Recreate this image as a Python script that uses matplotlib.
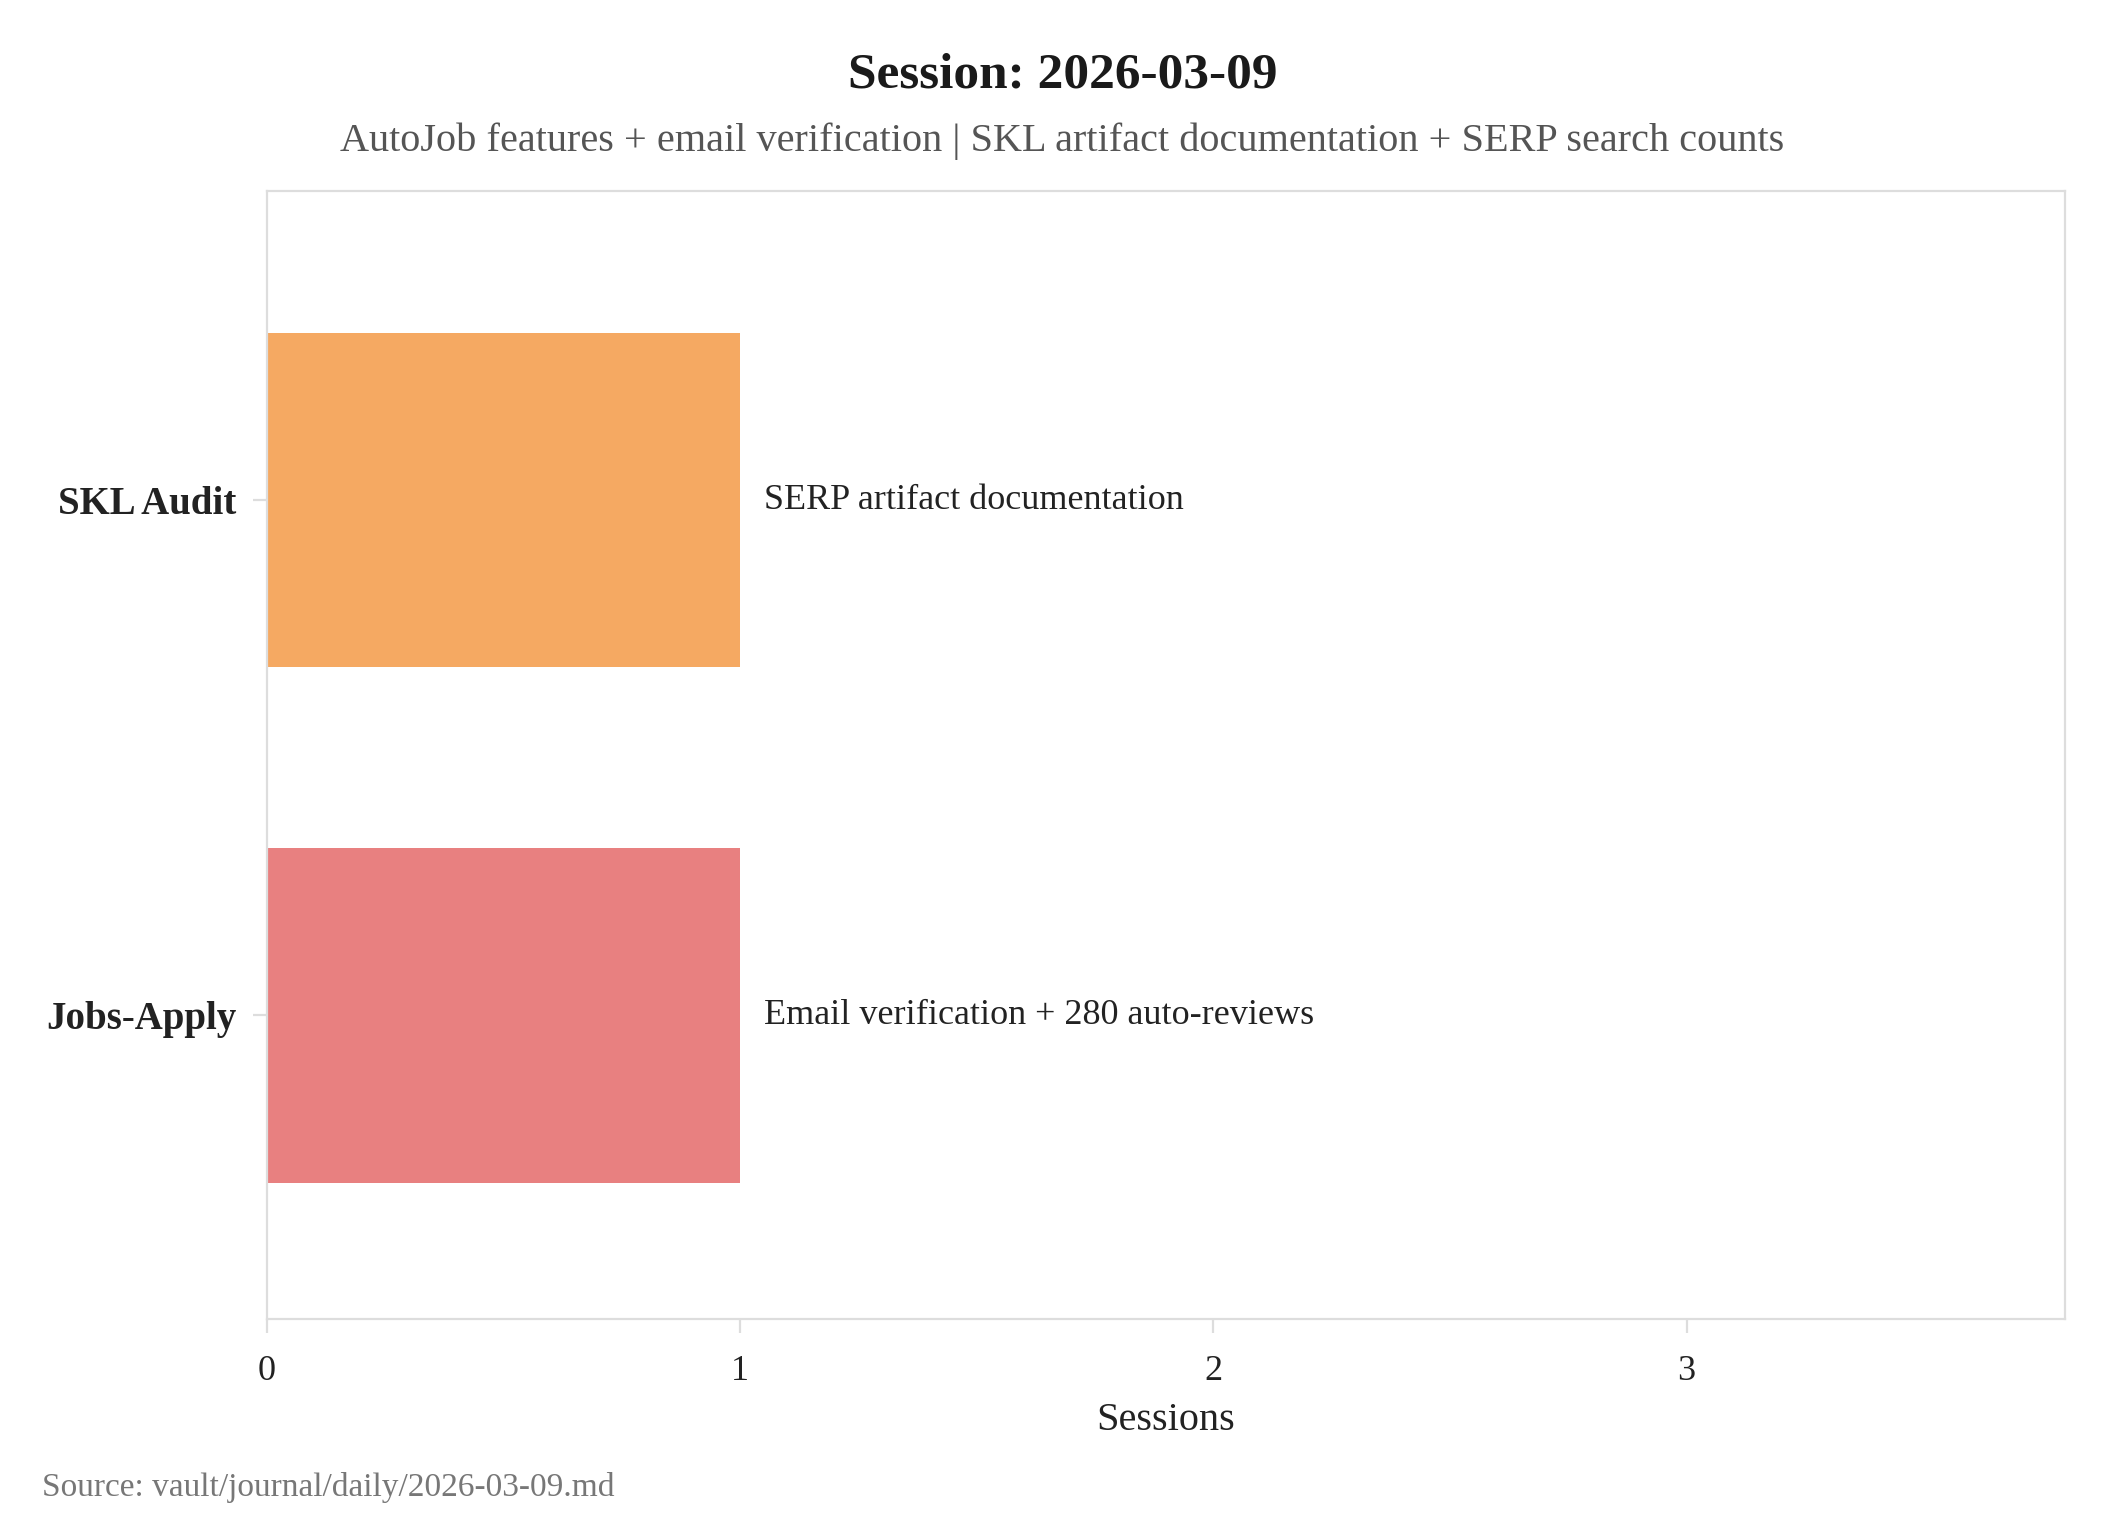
import matplotlib
matplotlib.use('Agg')
import matplotlib.pyplot as plt

# data
categories = ['Jobs-Apply', 'SKL Audit']
sessions = [1, 1]
notes = ['Email verification + 280 auto-reviews', 'SERP artifact documentation']
colors = ['#E88080', '#F5A962']

plt.rcParams['font.family'] = ['Liberation Serif', 'DejaVu Serif']

fig = plt.figure(figsize=(10.625, 7.675), dpi=200)
ax = fig.add_axes([0.1256, 0.1407, 0.8462, 0.7349])

ypos = list(range(len(categories)))
ax.barh(ypos, sessions, height=0.65, color=colors)
for y, v, note in zip(ypos, sessions, notes):
    ax.text(v + 0.05, y, note, va='center', ha='left', fontsize=13, color='#222222')

ax.set_xlim(0, 3.8)
ax.set_ylim(-0.59, 1.6)
ax.set_xticks([0, 1, 2, 3])
ax.set_yticks(ypos)
ax.set_yticklabels(categories, fontsize=14, fontweight='bold', color='#222222')
ax.tick_params(axis='x', labelsize=13, colors='#dddddd', labelcolor='#222222', length=5, pad=8)
ax.tick_params(axis='y', colors='#dddddd', labelcolor='#222222', length=5, pad=6)
for s in ax.spines.values():
    s.set_color('#dddddd')
    s.set_linewidth(0.8)
ax.set_xlabel('Sessions', fontsize=14.5, color='#222222', labelpad=5)

fig.text(0.5, 0.951, 'Session: 2026-03-09', ha='center', va='center',
         fontsize=18.5, fontweight='bold', color='#1a1a1a')
fig.text(0.5, 0.908, 'AutoJob features + email verification | SKL artifact documentation + SERP search counts',
         ha='center', va='center', fontsize=14.5, color='#555555')
fig.text(0.02, 0.031, 'Source: vault/journal/daily/2026-03-09.md', ha='left', va='center',
         fontsize=12, color='#777777')

fig.savefig('out.png', dpi=200)
